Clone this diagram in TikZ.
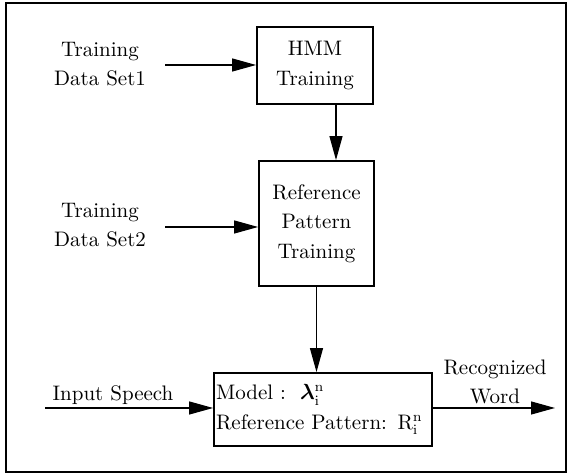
\documentclass[tikz,border=0pt]{standalone}
\usepackage{bm}
\usetikzlibrary{arrows.meta}
\tikzset{
	block/.style={draw,line width=.9pt,align=center,inner sep=0pt,
		font=\fontsize{10.5}{14.75}\selectfont},
	label text/.style={align=center,font=\fontsize{10.5}{14.75}\selectfont},
	flow/.style={->,line width=.6pt}
}
\begin{document}
\begin{tikzpicture}[x=.5pt,y=-.5pt,>={Triangle[length=12pt,width=6.5pt]}]
	\useasboundingbox (0,0) rectangle (569,474);
	\draw[line width=.9pt] (6,3) rectangle (566,472);
	\node[block,minimum width=58pt,minimum height=38.5pt](hmm) at (315,65.5) {HMM\\Training};
	\node[block,minimum width=57.5pt,minimum height=62.5pt](ref) at (316.5,223.5) {Reference\\Pattern\\Training};
	\node[block,text width=107pt,inner xsep=1pt,minimum height=36.5pt,align=left](model) at (323,409.5)
		{Model :\ \ $\bm{\lambda}_{\mathrm{i}}^{\mathrm{n}}$\\\mbox{Reference Pattern: R$_{\mathrm{i}}^{\mathrm{n}}$}};
	\node[label text](set1) at (100,64) {Training\\Data Set1};
	\node[label text](set2) at (100,225) {Training\\Data Set2};
	\node[label text](speech) at (113,395) {Input Speech};
	\node[label text](word) at (495,382) {Recognized\\Word};
	\coordinate (in1) at (165,65);
	\coordinate (in2) at (165,227);
	\coordinate (speechin) at (45,408);
	\coordinate (wordout) at (555,408);
	\coordinate (hmmout) at ([xshift=10.5pt]hmm.south);
	\draw[flow](in1)--(in1 -| hmm.west);
	\draw[flow](in2)--(in2 -| ref.west);
	\draw[flow](hmmout)--(hmmout |- ref.north);
	\draw[flow](ref.south)--(ref.south |- model.north);
	\draw[flow](speechin)--(speechin -| model.west);
	\draw[flow](model.east |- wordout)--(wordout);
\end{tikzpicture}
\end{document}
